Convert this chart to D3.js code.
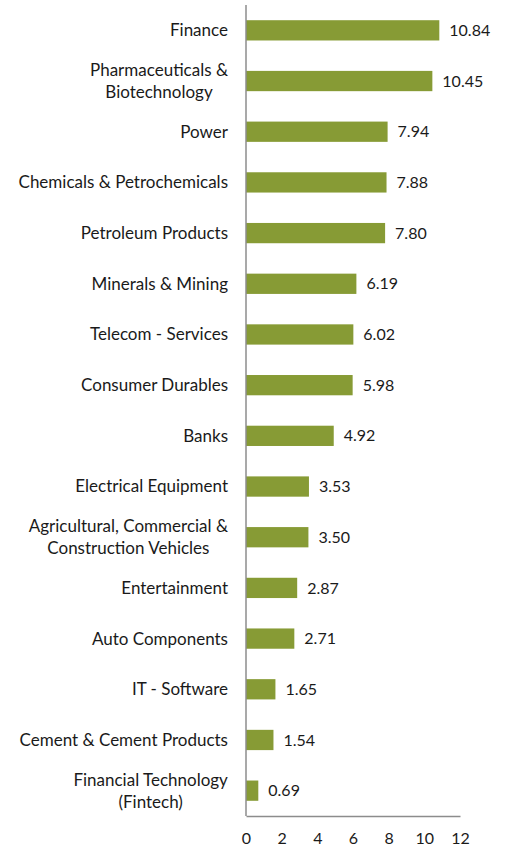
<!DOCTYPE html>
<html>
<head>
<meta charset="utf-8">
<script src="https://cdn.jsdelivr.net/npm/d3@7"></script>
<style>
  body { margin: 0; background: #fff; }
  svg text { font-family: Lato, "Open Sans", sans-serif; fill: #1a1a1a; }
</style>
</head>
<body>
<div id="chart"></div>
<script>
const width = 505;
const height = 850;

// Sector names (multi-line labels split with "\n")
const sectors = [
    "Finance",
    "Pharmaceuticals &\nBiotechnology",
    "Power",
    "Chemicals & Petrochemicals",
    "Petroleum Products",
    "Minerals & Mining",
    "Telecom - Services",
    "Consumer Durables",
    "Banks",
    "Electrical Equipment",
    "Agricultural, Commercial &\nConstruction Vehicles",
    "Entertainment",
    "Auto Components",
    "IT - Software",
    "Cement & Cement Products",
    "Financial Technology\n(Fintech)"
];
const values = [10.84, 10.45, 7.94, 7.88, 7.80, 6.19, 6.02, 5.98, 4.92, 3.53, 3.50, 2.87, 2.71, 1.65, 1.54, 0.69];
const xTicks = [0, 2, 4, 6, 8, 10, 12];

const data = sectors.map((s, i) => ({ sector: s, value: values[i] }));

const margin = { top: 5, right: 45, bottom: 34, left: 246 };

const svg = d3.select("#chart").append("svg")
    .attr("width", width)
    .attr("height", height);

const x = d3.scaleLinear()
    .domain([0, 12])
    .range([margin.left, width - margin.right]);

const y = d3.scaleBand()
    .domain(sectors)
    .range([margin.top, height - margin.bottom])
    .paddingInner(0.6)
    .paddingOuter(0.3);

// bars
svg.append("g")
    .selectAll("rect")
    .data(data)
    .join("rect")
    .attr("x", x(0))
    .attr("y", d => y(d.sector))
    .attr("width", d => x(d.value) - x(0))
    .attr("height", y.bandwidth())
    .attr("fill", "#879B35");

// value labels
svg.append("g")
    .selectAll("text")
    .data(data)
    .join("text")
    .attr("x", d => x(d.value) + 10)
    .attr("y", d => y(d.sector) + y.bandwidth() / 2)
    .attr("dy", "0.35em")
    .style("font-size", "16px")
    .text(d => d.value.toFixed(2));

// category labels
const cat = svg.append("g")
    .selectAll("text")
    .data(data)
    .join("text")
    .attr("text-anchor", "end")
    .style("font-size", "17px")
    .attr("transform", d => `translate(${margin.left - 18},${y(d.sector) + y.bandwidth() / 2})`);

cat.each(function(d) {
    const lines = d.sector.split("\n");
    const t = d3.select(this);
    const lh = 22;
    lines.forEach((line, i) => {
        t.append("tspan")
            .attr("x", 0)
            .attr("y", (i - (lines.length - 1) / 2) * lh)
            .attr("dy", "0.35em")
            .attr("text-anchor", lines.length > 1 ? "middle" : "end")
            .text(line);
    });
});

// multi-line labels are centred on their widest line, right edge at the same place
cat.each(function(d) {
    const lines = d.sector.split("\n");
    if (lines.length > 1) {
        const w = this.getBBox().width;
        d3.select(this).selectAll("tspan").attr("x", -w / 2);
    }
});

// axes
const axisColor = "#8c8c8c";
svg.append("line")
    .attr("x1", x(0)).attr("x2", x(0))
    .attr("y1", margin.top).attr("y2", height - margin.bottom)
    .attr("stroke", axisColor).attr("stroke-width", 1.5);

const xAxis = svg.append("g")
    .attr("transform", `translate(0,${height - margin.bottom})`)
    .call(d3.axisBottom(x).tickValues(xTicks).tickSize(0).tickPadding(17).tickFormat(d3.format("d")));

xAxis.select(".domain").attr("stroke", axisColor).attr("stroke-width", 1.5);
xAxis.selectAll("text")
    .style("font-family", "Lato, 'Open Sans', sans-serif")
    .style("font-size", "16px")
    .attr("fill", "#1a1a1a");
</script>
</body>
</html>
